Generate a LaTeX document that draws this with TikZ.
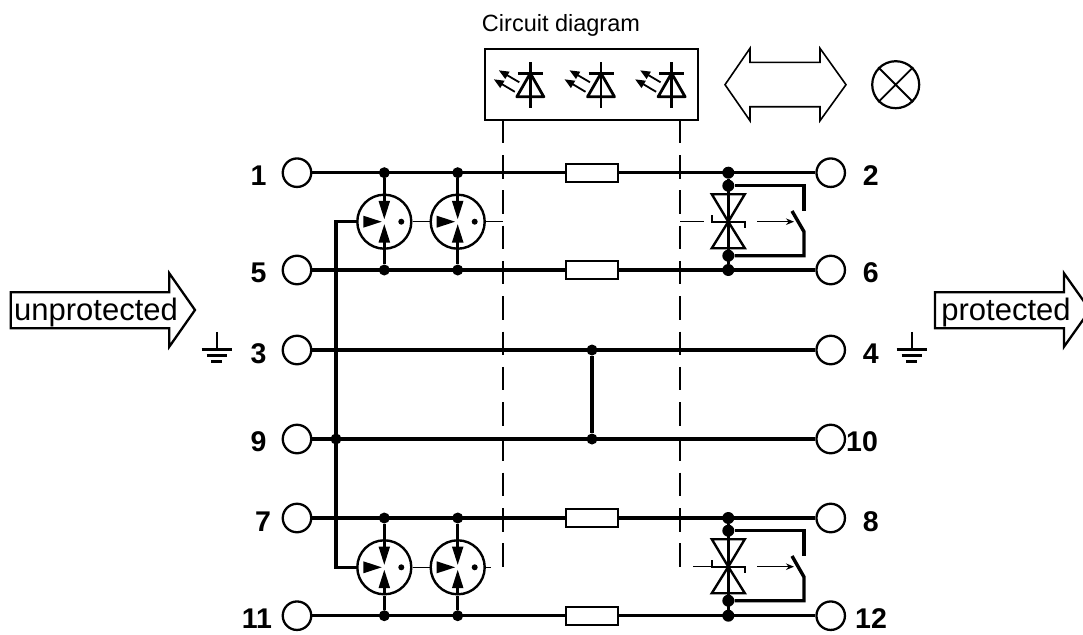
\documentclass[tikz,border=0pt]{standalone}
\usepackage{fontspec}
\setmainfont{Liberation Sans}
\usetikzlibrary{arrows.meta}
\tikzset{
  wire/.style={line width=3.4pt},
  thinw/.style={line width=1.4pt},
  med/.style={line width=2.4pt},
  guide/.style={line width=1.4pt,dash pattern=on 23.5pt off 11.8pt},
  term/.style={circle,draw,line width=2.3pt,minimum size=28.5pt,inner sep=0pt},
  jdot/.style={circle,fill=black,draw=none,minimum size=11pt,inner sep=0pt},
  jbig/.style={circle,fill=black,draw=none,minimum size=12pt,inner sep=0pt},
  smalldot/.style={circle,fill=black,draw=none,minimum size=6pt,inner sep=0pt},
  gas/.style={circle,draw,line width=2.4pt,minimum size=54pt,inner sep=0pt},
  res/.style={rectangle,draw,line width=2pt,minimum width=52pt,minimum height=18pt,inner sep=0pt,fill=white},
  num/.style={font=\fontsize{28.5}{30}\selectfont\bfseries,inner sep=0pt},
  big/.style={font=\fontsize{31}{33}\selectfont,inner sep=0pt},
  fine/.style={thinw,-{Stealth[length=8pt,width=6.5pt]}},
  ledarrow/.style={line width=1.8pt,-{Triangle[length=10pt,width=8pt]}},
  gdt/.pic={
    \node[gas] (-c) at (0,0) {};
    \node[smalldot] (-d) at (17,0) {};
    \draw[wire,-{Triangle[length=19pt,width=10.5pt]}] (0,-27) -- (0,-1.8);
    \draw[wire,-{Triangle[length=19pt,width=10.5pt]}] (0,27) -- (0,1.8);
    \fill (-21,-6) -- (-2.6,0) -- (-21,6) -- cycle;
  },
  tvs/.pic={
    \draw[med,line join=miter] (-16.5,-27.5) -- (16.5,-27.5) -- (0,0) -- cycle;
    \draw[med,line join=miter] (-16.5,26.5) -- (16.5,26.5) -- (0,0) -- cycle;
    \draw[med] (-16.5,-6.5) -- (-16.5,0) -- (16.5,0) -- (16.5,6.5);
  },
  led/.pic={
    \draw[line width=2.6pt] (0,-11) -- (0,35);
    \draw[line width=2.8pt] (-12.5,0) -- (12.5,0);
    \draw[line width=2.8pt,line join=round] (-13.5,23.5) -- (13.5,23.5) -- (0,0) -- cycle;
    \draw[ledarrow] (-11,9) -- (-31.5,-3);
    \draw[ledarrow] (-15.5,18.5) -- (-36.5,6);
  },
  earth/.pic={
    \draw[med] (0,-17.5) -- (0,0);
    \draw[med] (-15,0) -- (15,0);
    \draw[med] (-10,6) -- (10,6);
    \draw[line width=2.8pt] (-5.5,12) -- (5.5,12);
  },
}
\begin{document}
\begin{tikzpicture}[x=1pt,y=-1pt]
\clip (0,0) rectangle (1083,634);
% terminals
\foreach \n/\yy in {1/172.7,5/270,3/350,9/439,7/518,11/615.7}{\node[term] (t\n) at (297,\yy) {};}
\foreach \n/\yy in {2/172.7,6/270,4/350,10/439,8/518,12/615.7}{\node[term] (t\n) at (830.7,\yy) {};}
% numbers
\node[num] (l1) at (258.5,176) {1};
\node[num] (l5) at (258.5,273) {5};
\node[num] (l3) at (258.5,354) {3};
\node[num] (l9) at (258.5,442) {9};
\node[num] (l7) at (263,522) {7};
\node[num] (l11) at (257,619) {11};
\node[num] (l2) at (870.7,176) {2};
\node[num] (l6) at (870.7,273) {6};
\node[num] (l4) at (870.7,354) {4};
\node[num] (l10) at (862,442) {10};
\node[num] (l8) at (870.7,522) {8};
\node[num] (l12) at (871,619) {12};
% title and box
\node[font=\fontsize{23.5}{25}\selectfont,inner sep=0pt] (title) at (561,25.5) {Circuit diagram};
\node[draw,line width=2.6pt,minimum width=213pt,minimum height=71pt,inner sep=0pt] (box) at (591.5,84.5) {};
\pic at (530.3,73.3) {led};
\pic at (601,73.3) {led};
\pic at (671.6,73.3) {led};
% double arrow and lamp
\draw[line width=1.6pt,line join=miter] (725,84.7) -- (750,48.3) -- (750,62.3) -- (820,62.3) -- (820,48.3) -- (846,84.7) -- (820,120.7) -- (820,106.7) -- (750,106.7) -- (750,120.7) -- cycle;
\node[circle,draw,line width=2.2pt,minimum size=47pt,inner sep=0pt] (lamp) at (895.7,84.7) {};
\draw[line width=1.8pt] (lamp.45) -- (lamp.225) (lamp.135) -- (lamp.315);
% guides
\coordinate (gl0) at (503,119.7);
\coordinate (gl1) at (503,567);
\coordinate (gr0) at (680,119.7);
\coordinate (gr1) at (680,567);
\draw[guide] (gl0) -- (gl1);
\draw[guide] (gr0) -- (gr1);
% resistors
\node[res] (r1) at (592,172.7) {};
\node[res] (r2) at (592,270) {};
\node[res] (r3) at (592,518) {};
\node[res] (r4) at (592,615.7) {};
% junctions
\foreach \n/\xx/\yy in {a1/384.3/172.7,a2/457.7/172.7,b1/384.3/270,b2/457.7/270,c1/384.3/518,c2/457.7/518,d1/384.3/615.7,d2/457.7/615.7,m3/592/350,m9/592/439,bus/336/439}{\node[jdot] (\n) at (\xx,\yy) {};}
\foreach \n/\yy in {e1/172.7,e2/185.7,e3/255.7,e4/270,f1/518,f2/530.7,f3/600.7,f4/615.7}{\node[jbig] (\n) at (728.3,\yy) {};}
% wires
\draw[wire] (t1) -- (r1) -- (t2);
\draw[wire] (t5) -- (r2) -- (t6);
\draw[wire] (t3) -- (t4);
\draw[wire] (t9) -- (t10);
\draw[wire] (t7) -- (r3) -- (t8);
\draw[wire] (t11) -- (r4) -- (t12);
\draw[wire] (m3) -- (m9);
% gas tubes
\pic (g1) at (384.3,221.7) {gdt};
\pic (g2) at (457.7,221.7) {gdt};
\pic (g3) at (384.3,567.3) {gdt};
\pic (g4) at (457.7,567.3) {gdt};
\draw[wire] (a1) -- (g1-c.north);
\draw[wire] (b1) -- (g1-c.south);
\draw[wire] (a2) -- (g2-c.north);
\draw[wire] (b2) -- (g2-c.south);
\draw[wire] (c1) -- (g3-c.north);
\draw[wire] (d1) -- (g3-c.south);
\draw[wire] (c2) -- (g4-c.north);
\draw[wire] (d2) -- (g4-c.south);
% bus
\draw[wire,line join=miter] (g1-c.west) -- (336,221.7) -- (336,567.3) -- (g3-c.west);
% tube links
\draw[thinw] (g1-c) -- (g2-c);
\draw[thinw] (g3-c) -- (g4-c);
\coordinate (gle1) at (503,221.7);
\coordinate (gle2) at (491,567.3);
\draw[thinw] (g2-c.east) -- (gle1);
\draw[thinw] (g4-c.east) -- (gle2);
% tvs
\draw[wire] (e1) -- (e4);
\draw[wire] (f1) -- (f4);
\pic at (728.3,221.7) {tvs};
\pic at (728.3,566.7) {tvs};
% switches
\draw[wire,line join=miter] (e2) -- (804,185.7) -- (804,211);
\draw[wire,line join=miter] (e3) -- (804,255.7) -- (804,231.7) -- (792,211);
\draw[wire,line join=miter] (f2) -- (804,530.7) -- (804,556);
\draw[wire,line join=miter] (f3) -- (804,600.7) -- (804,577) -- (792,556);
% actuators
\coordinate (q1) at (757,221.7);
\coordinate (q2) at (794,221.7);
\coordinate (q3) at (757,566.7);
\coordinate (q4) at (794,566.7);
\draw[fine] (q1) -- (q2);
\draw[fine] (q3) -- (q4);
\coordinate (s1) at (680,221.7);
\coordinate (s2) at (704,221.7);
\coordinate (s3) at (693,566.7);
\coordinate (s4) at (712,566.7);
\draw[thinw] (s1) -- (s2);
\draw[thinw] (s3) -- (s4);
% big arrows
\draw[line width=2.3pt,line join=miter] (10.7,292.3) -- (169.3,292.3) -- (169.3,273.3) -- (195,310) -- (169.3,346.7) -- (169.3,328.3) -- (10.7,328.3) -- cycle;
\node[big] (un) at (96,312) {unprotected};
\draw[line width=2.3pt,line join=miter] (935,292.3) -- (1064,292.3) -- (1064,273.3) -- (1090,310) -- (1064,346.7) -- (1064,328.3) -- (935,328.3) -- cycle;
\node[big] (pr) at (1006,312) {protected};
% earth
\pic at (216.7,349.3) {earth};
\pic at (911.7,349.3) {earth};
\end{tikzpicture}
\end{document}
